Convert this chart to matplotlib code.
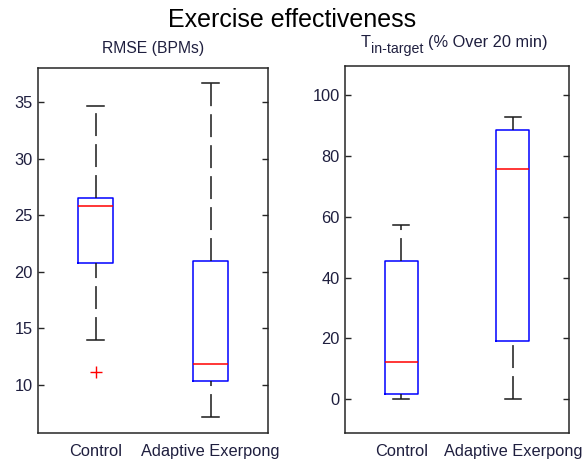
import matplotlib
matplotlib.use("Agg")
import matplotlib.pyplot as plt

plt.rcParams['font.family'] = ['Liberation Sans', 'DejaVu Sans']
plt.rcParams['lines.scale_dashes'] = False

groups = ["Control", "Adaptive Exerpong"]

# RMSE (BPMs)
rmse_whislo = [14.0, 7.2]
rmse_q1 = [20.8, 10.35]
rmse_med = [25.85, 11.85]
rmse_q3 = [26.55, 20.95]
rmse_whishi = [34.65, 36.65]
rmse_fliers = [[11.15], []]

# T in-target (% over 20 min)
tin_whislo = [0.0, 0.0]
tin_q1 = [1.7, 19.1]
tin_med = [12.2, 75.6]
tin_q3 = [45.6, 88.6]
tin_whishi = [57.3, 92.6]
tin_fliers = [[], []]

TXT = '#1f1f3f'
W, H = 584, 461
fig = plt.figure(figsize=(W / 100, H / 100), dpi=100)

def px_rect(x0, x1, ytop, ybot):
    return [x0 / W, 1 - ybot / H, (x1 - x0) / W, (ybot - ytop) / H]

ax1 = fig.add_axes(px_rect(38, 268, 68, 433))
ax2 = fig.add_axes(px_rect(345.5, 568.5, 65.7, 433.3))

def make_stats(lo, q1, med, q3, hi, fl):
    return [dict(whislo=lo[i], q1=q1[i], med=med[i], q3=q3[i], whishi=hi[i],
                 fliers=fl[i], label=groups[i]) for i in range(len(groups))]

def draw(ax, stats, ylim, yticks):
    res = ax.bxp(stats, positions=[1, 2], widths=0.3, capwidths=0.145,
                 boxprops=dict(color='#0000ff', linewidth=1.1),
                 medianprops=dict(color='#ff0000', linewidth=1.1),
                 whiskerprops=dict(color='#1a1a1a', linewidth=1.1,
                                   linestyle=(0, (16.5, 5.8))),
                 capprops=dict(color='#1a1a1a', linewidth=1.1),
                 flierprops=dict(marker='+', markeredgecolor='#ff0000',
                                 markersize=8.5, markeredgewidth=1.0,
                                 linestyle='none'))
    # draw lower whiskers from the whisker end up to the box
    for i, wl in enumerate(res['whiskers']):
        if i % 2 == 0:
            xd, yd = wl.get_data()
            wl.set_data(list(xd)[::-1], list(yd)[::-1])
    ax.set_xlim(0.5, 2.5)
    ax.set_ylim(*ylim)
    ax.set_yticks(yticks)
    ax.set_xticks([1, 2])
    ax.set_xticklabels(groups)
    ax.tick_params(axis='y', direction='in', length=4, width=1.0,
                   left=True, right=True, labelsize=11.8, labelcolor=TXT,
                   color='#262626', pad=4)
    ax.tick_params(axis='x', length=0, labelsize=11.8, labelcolor=TXT, pad=8)
    for s in ax.spines.values():
        s.set_linewidth(1.1)
        s.set_color('#262626')

draw(ax1, make_stats(rmse_whislo, rmse_q1, rmse_med, rmse_q3, rmse_whishi, rmse_fliers),
     (5.76, 38.0), [10, 15, 20, 25, 30, 35])
draw(ax2, make_stats(tin_whislo, tin_q1, tin_med, tin_q3, tin_whishi, tin_fliers),
     (-11.17, 109.6), [0, 20, 40, 60, 80, 100])

fig.text(0.5, 1 - 27 / H, "Exercise effectiveness", ha='center', va='baseline',
         fontsize=18, color='black')
fig.text(153 / W, 1 - 53 / H, "RMSE (BPMs)", ha='center', va='baseline',
         fontsize=11.3, color=TXT)

# right subtitle: T with subscript "in-target"
r = fig.canvas.get_renderer()
base = 1 - 47 / H
t1 = fig.text(361 / W, base, "T", ha='left', va='baseline', fontsize=11.8, color=TXT)
x = t1.get_window_extent(r).x1 + 0.5
t2 = fig.text(x / W, base - 6.5 / H, "in-target", ha='left', va='baseline',
              fontsize=10.2, color=TXT)
x = t2.get_window_extent(r).x1 + 4
fig.text(x / W, base, "(% Over 20 min)", ha='left', va='baseline',
         fontsize=11.8, color=TXT)

fig.savefig("out.png", dpi=100)
